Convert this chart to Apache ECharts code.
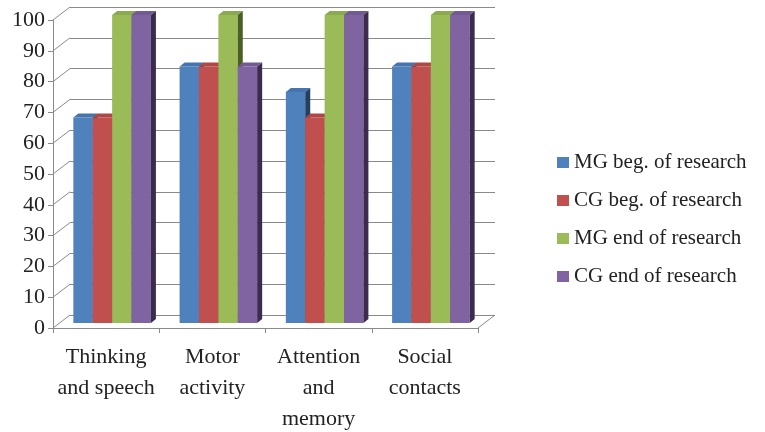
<!DOCTYPE html>
<html>
<head>
<meta charset="utf-8">
<script src="https://cdn.jsdelivr.net/npm/echarts@6/dist/echarts.min.js"></script>
<style>
  html, body { margin: 0; padding: 0; background: #fff; }
  #chart { width: 765px; height: 432px; }
</style>
</head>
<body>
<div id="chart"></div>
<script>
// data
const categories = ['Thinking\nand speech', 'Motor\nactivity', 'Attention\nand\nmemory', 'Social\ncontacts']
const seriesNames = ['MG beg. of research', 'CG beg. of research', 'MG end of research', 'CG end of research']
const mgBegin = [66.7, 83.3, 75, 83.3]
const cgBegin = [66.7, 83.3, 66.7, 83.3]
const mgEnd = [100, 100, 100, 100]
const cgEnd = [100, 83.3, 100, 100]
const yTicks = [0, 10, 20, 30, 40, 50, 60, 70, 80, 90, 100]

const allValues = [mgBegin, cgBegin, mgEnd, cgEnd]
const colors = ['#4F81BD', '#C0504D', '#9BBB59', '#8064A2']
const topColors = ['#4675AD', '#AE4845', '#8BA94F', '#725A92']
const sideColors = ['#233F62', '#5E2220', '#4A5E25', '#3A2C4E']

const FONT = '"Liberation Serif", "Times New Roman", serif'
// wall depth (front axis -> back wall) and bar offsets
const WALL_DX = 17, WALL_DY = -13
const BAR_SX = 6, BAR_SY = -5
const BAR_DX = 5, BAR_DY = -4

const chart = echarts.init(document.getElementById('chart'))

// little diagonal lines on the side wall + floor corner
const wallItem = (params, api) => {
  const cs = params.coordSys
  const v = api.value(0)
  const p = api.coord([0, v])
  const x = cs.x
  const children = [{
    type: 'line',
    shape: {x1: x, y1: p[1], x2: x + WALL_DX, y2: p[1] + WALL_DY},
    style: {stroke: '#8a8a8a', lineWidth: 1}
  }]
  if (v === 0) {
    children.push({
      type: 'line',
      shape: {x1: x + cs.width, y1: p[1], x2: x + cs.width + WALL_DX, y2: p[1] + WALL_DY},
      style: {stroke: '#8a8a8a', lineWidth: 1}
    })
  }
  return {type: 'group', children: children}
}

const barItem = (idx) => (params, api) => {
  const cat = api.value(0)
  const val = api.value(1)
  const base = api.coord([cat, 0])
  const top = api.coord([cat, val])
  const band = api.size([1, 0])[0]
  const w = band * 0.73 / 4
  const x0 = base[0] - 2 * w + idx * w + BAR_SX
  const yb = base[1] + BAR_SY
  const yt = top[1] + BAR_SY
  return {
    type: 'group',
    children: [
      {
        type: 'rect',
        shape: {x: x0, y: yt, width: w, height: yb - yt},
        style: {fill: colors[idx]}
      },
      {
        type: 'polygon',
        shape: {points: [[x0, yt], [x0 + BAR_DX, yt + BAR_DY], [x0 + w + BAR_DX, yt + BAR_DY], [x0 + w, yt]]},
        style: {fill: topColors[idx]}
      },
      {
        type: 'polygon',
        shape: {points: [[x0 + w, yt], [x0 + w + BAR_DX, yt + BAR_DY], [x0 + w + BAR_DX, yb + BAR_DY], [x0 + w, yb]]},
        style: {fill: sideColors[idx]}
      }
    ]
  }
}

const series = [{
  type: 'custom',
  name: 'wall',
  xAxisIndex: 0,
  yAxisIndex: 0,
  silent: true,
  renderItem: wallItem,
  encode: {y: 0},
  data: yTicks.map(v => [v]),
  z: 1
}]
seriesNames.forEach((name, i) => {
  series.push({
    type: 'custom',
    name: name,
    xAxisIndex: 0,
    yAxisIndex: 0,
    itemStyle: {color: colors[i]},
    renderItem: barItem(i),
    encode: {x: 0, y: 1},
    data: allValues[i].map((v, c) => [c, v]),
    z: 2
  })
})

const option = {
  animation: false,
  backgroundColor: '#fff',
  textStyle: {fontFamily: FONT},
  legend: {
    orient: 'vertical',
    left: 552,
    top: 147,
    itemWidth: 12,
    itemHeight: 11,
    itemGap: 17,
    icon: 'rect',
    data: seriesNames,
    textStyle: {fontFamily: FONT, fontSize: 21, color: '#222'}
  },
  grid: [
    {left: 53, top: 20, width: 425, height: 308, outerBoundsMode: 'none', containLabel: false},
    {left: 53 + WALL_DX, top: 20 + WALL_DY, width: 425, height: 308, outerBoundsMode: 'none', containLabel: false}
  ],
  xAxis: [
    {
      type: 'category',
      gridIndex: 0,
      data: categories,
      boundaryGap: true,
      axisLine: {lineStyle: {color: '#8a8a8a'}},
      axisTick: {show: true, length: 5, lineStyle: {color: '#8a8a8a'}},
      axisLabel: {fontFamily: FONT, fontSize: 22, color: '#222', lineHeight: 31, margin: 14, interval: 0},
      splitLine: {show: false}
    },
    {
      type: 'category',
      gridIndex: 1,
      data: categories,
      show: false
    }
  ],
  yAxis: [
    {
      type: 'value',
      gridIndex: 0,
      min: 0,
      max: 100,
      interval: 10,
      axisLine: {show: true, lineStyle: {color: '#8a8a8a'}},
      axisTick: {show: true, length: 5, lineStyle: {color: '#8a8a8a'}},
      axisLabel: {fontFamily: FONT, fontSize: 22, color: '#222', margin: 8},
      splitLine: {show: false}
    },
    {
      type: 'value',
      gridIndex: 1,
      min: 0,
      max: 100,
      interval: 10,
      axisLine: {show: false},
      axisTick: {show: false},
      axisLabel: {show: false},
      splitLine: {show: true, lineStyle: {color: '#8a8a8a', width: 1}}
    }
  ],
  series: series
}

chart.setOption(option)
</script>
</body>
</html>
